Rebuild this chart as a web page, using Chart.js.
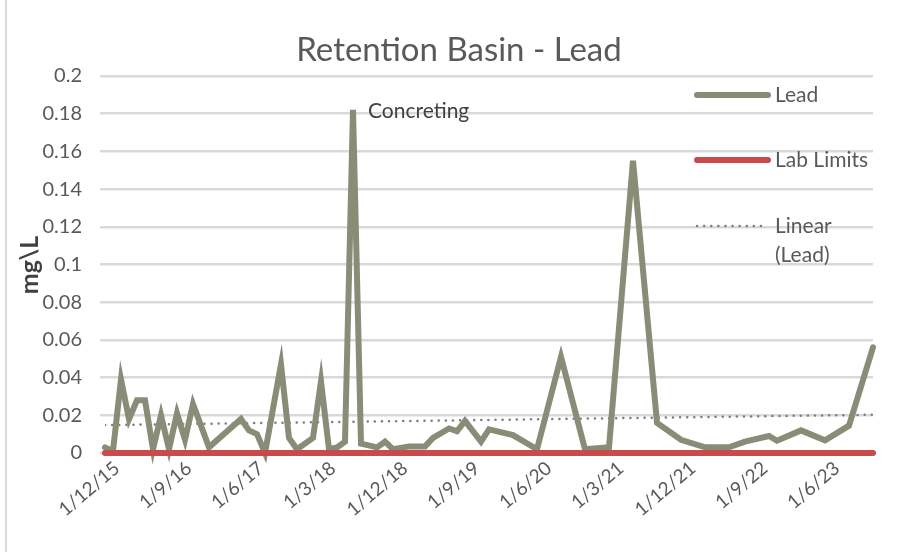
<!DOCTYPE html>
<html>
<head>
<meta charset="utf-8">
<script src="https://cdn.jsdelivr.net/npm/chart.js@4.4.1/dist/chart.umd.min.js"></script>
<style>
html,body{margin:0;padding:0;background:#fff;}
#wrap{position:relative;width:899px;height:554px;}
#frame{position:absolute;left:5px;top:0;width:892px;height:552px;border-left:2px solid #d9d9d9;}
canvas{position:absolute;left:0;top:0;}
</style>
</head>
<body>
<div id="wrap"><div id="frame"></div><canvas id="c" width="899" height="554"></canvas></div>
<script>
// ---- Data ----
const sampleDates = ['2015-12','2016-01','2016-02','2016-03','2016-04','2016-05','2016-06','2016-07','2016-08','2016-09','2016-10','2016-11',
  '2017-01','2017-05','2017-06','2017-07','2017-08','2017-10','2017-11','2017-12',
  '2018-02','2018-03','2018-04','2018-05','2018-06','2018-07','2018-08','2018-10','2018-11','2018-12',
  '2019-02','2019-04','2019-05','2019-07','2019-08','2019-09','2019-11','2019-12',
  '2020-03','2020-06','2020-09','2020-12','2021-03','2021-06','2021-09','2021-12',
  '2022-03','2022-06','2022-08','2022-11','2022-12','2023-03','2023-06','2023-09','2023-12'];
const leadValues = [0.003,0.001,0.039,0.018,0.028,0.028,0.002,0.020,0.002,0.021,0.007,0.026,
  0.003,0.018,0.012,0.010,0.000,0.047,0.008,0.002,
  0.008,0.038,0.002,0.003,0.006,0.182,0.005,0.003,0.006,0.002,
  0.0035,0.0035,0.008,0.013,0.0115,0.017,0.006,0.0125,
  0.0095,0.002,0.051,0.002,0.003,0.155,0.016,0.007,
  0.003,0.003,0.006,0.009,0.0065,0.012,0.0067,0.0145,0.056];
const labLimitDates = ['2015-12','2023-12'];
const labLimitValues = [0,0];
const trendDates = ['2015-12','2023-12'];
const trendValues = [0.0148,0.0203];
const xTickDates = ['2015-12','2016-09','2017-06','2018-03','2018-12','2019-09','2020-06','2021-03','2021-12','2022-09','2023-06'];
const xTickLabels = ['1/12/15','1/9/16','1/6/17','1/3/18','1/12/18','1/9/19','1/6/20','1/3/21','1/12/21','1/9/22','1/6/23'];
const yTickLabels = ['0','0.02','0.04','0.06','0.08','0.1','0.12','0.14','0.16','0.18','0.2'];
const annotationDate = '2018-07';
const annotationText = 'Concreting';

// month index relative to Dec 2015
function mi(d){const [y,m]=d.split('-').map(Number);return (y-2015)*12+(m-12);}
const pts = (ds,vs)=>ds.map((d,i)=>({x:mi(d),y:vs[i]}));
const tickIdx = xTickDates.map(mi);

const FONT = "Lato, 'Open Sans', sans-serif";
const LEAD = '#8a8c77';
const RED = '#c94a4a';
const TEXT = '#595959';

const overlay = {
  id:'overlay',
  afterDraw(chart){
    const ctx = chart.ctx;
    ctx.save();
    // title
    ctx.fillStyle = TEXT;
    ctx.font = "33px " + FONT;
    ctx.textAlign = 'center'; ctx.textBaseline = 'middle';
    ctx.fillText('Retention Basin - Lead', 459, 50);
    // annotation at data point
    const idx = chart.data.datasets.findIndex(d=>d.label==='Lead');
    const meta = chart.getDatasetMeta(idx);
    const ai = sampleDates.indexOf(annotationDate);
    const p = meta.data[ai];
    if (p) {
      ctx.font = "21px " + FONT;
      ctx.fillStyle = '#404040';
      ctx.textAlign = 'left';
      ctx.fillText(annotationText, p.x + 15, p.y + 1);
    }
    // legend
    const lx0 = 697, lx1 = 768, tx = 775;
    ctx.textAlign = 'left';
    ctx.lineCap = 'round';
    ctx.lineWidth = 6; ctx.strokeStyle = LEAD;
    ctx.beginPath(); ctx.moveTo(lx0,95); ctx.lineTo(lx1,95); ctx.stroke();
    ctx.strokeStyle = RED;
    ctx.beginPath(); ctx.moveTo(lx0,160); ctx.lineTo(lx1,160); ctx.stroke();
    ctx.lineWidth = 2.5; ctx.strokeStyle = '#7f7f7f'; ctx.setLineDash([0.1,7]);
    ctx.beginPath(); ctx.moveTo(lx0,226); ctx.lineTo(lx1,226); ctx.stroke();
    ctx.setLineDash([]);
    ctx.fillStyle = TEXT; ctx.font = "21px " + FONT;
    ctx.fillText('Lead', tx, 95);
    ctx.fillText('Lab Limits', tx, 160);
    ctx.fillText('Linear', tx, 226);
    ctx.fillText('(Lead)', tx, 255);
    // y axis title
    ctx.translate(30, 265); ctx.rotate(-Math.PI/2);
    ctx.fillStyle = '#404040'; ctx.font = "bold 25px " + FONT;
    ctx.textAlign='center';
    ctx.fillText('mg\\L', 0, 0);
    ctx.restore();
  }
};

new Chart(document.getElementById('c'), {
  type:'line',
  data:{
    datasets:[
      {label:'Linear (Lead)', data:pts(trendDates,trendValues), borderColor:'#7f7f7f', borderWidth:2.5, borderDash:[0.1,7], borderCapStyle:'round', pointRadius:0, order:3},
      {label:'Lab Limits', data:pts(labLimitDates,labLimitValues), borderColor:RED, borderWidth:6, borderCapStyle:'round', pointRadius:0, order:1, clip:false},
      {label:'Lead', data:pts(sampleDates,leadValues), borderColor:LEAD, borderWidth:6, borderJoinStyle:'miter', borderCapStyle:'round', pointRadius:0, tension:0, order:2, clip:false}
    ]
  },
  options:{
    responsive:false, animation:false, devicePixelRatio:1,
    layout:{padding:{left:0,right:26,top:76,bottom:0}},
    plugins:{legend:{display:false}, title:{display:false}, tooltip:{enabled:false}},
    scales:{
      x:{type:'linear', min:0, max:96,
        grid:{display:false, drawTicks:false},
        border:{display:false},
        afterBuildTicks(s){ s.ticks = tickIdx.map(v=>({value:v})); },
        afterFit(s){ s.height = 101; },
        ticks:{autoSkip:false, maxRotation:40, minRotation:40, padding:4, labelOffset:12, color:TEXT, font:{family:FONT,size:19},
          callback(v){ const i=tickIdx.indexOf(v); return i>=0?xTickLabels[i]:''; }}
      },
      y:{min:0, max:0.2,
        grid:{color:'#d9d9d9', lineWidth:2.5, tickLength:5, drawTicks:true},
        border:{display:false},
        afterFit(s){ s.width = 105; },
        ticks:{stepSize:0.02, padding:18, color:TEXT, font:{family:FONT,size:20},
          callback(v,i){ return yTickLabels[i]; }}
      }
    }
  },
  plugins:[overlay]
});
</script>
</body>
</html>
